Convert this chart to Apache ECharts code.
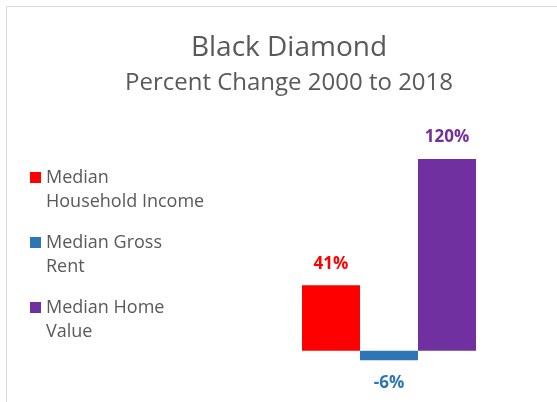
<!DOCTYPE html>
<html>
<head>
<meta charset="utf-8">
<script src="https://cdn.jsdelivr.net/npm/echarts@6/dist/echarts.min.js"></script>
<style>
  html, body { margin: 0; padding: 0; background: #ffffff; }
  #chart { width: 557px; height: 402px; }
</style>
</head>
<body>
<div id="chart"></div>
<script>
// Percent change 2000 to 2018, Black Diamond
const seriesNames = ['Median\nHousehold Income', 'Median Gross\nRent', 'Median Home\nValue'];
const seriesValues = [41, -6, 120];
const seriesColors = ['#ff0000', '#2e75b6', '#7030a0'];
const categories = ['2000-2018'];

const chart = echarts.init(document.getElementById('chart'));

const series = seriesNames.map((name, i) => ({
  name: name,
  type: 'bar',
  data: [seriesValues[i]],
  barWidth: 58,
  barGap: '0%',
  itemStyle: { color: seriesColors[i] },
  label: {
    show: true,
    position: seriesValues[i] < 0 ? 'bottom' : 'top',
    distance: seriesValues[i] < 0 ? 14 : 13,
    formatter: p => p.value + '%',
    color: seriesColors[i],
    fontFamily: 'Open Sans',
    fontWeight: 'bold',
    fontSize: 17
  }
}));

chart.setOption({
  animation: false,
  backgroundColor: '#ffffff',
  title: {
    text: 'Black Diamond',
    subtext: 'Percent Change 2000 to 2018',
    left: 284,
    textAlign: 'center',
    top: 29,
    itemGap: 9,
    textStyle: { fontFamily: 'Open Sans', fontWeight: 'normal', fontSize: 28, color: '#595959' },
    subtextStyle: { fontFamily: 'Open Sans', fontSize: 24, color: '#595959' }
  },
  legend: {
    orient: 'vertical',
    left: 30,
    top: 141.5,
    padding: 0,
    itemWidth: 11,
    itemHeight: 11,
    itemGap: -7,
    icon: 'rect',
    selectedMode: false,
    // a blank leading line keeps the marker level with the first text line
    formatter: name => ' \n' + name,
    textStyle: {
      fontFamily: 'Open Sans',
      fontSize: 18,
      color: '#595959',
      lineHeight: 24
    },
    data: seriesNames
  },
  grid: { left: 300, right: 79, top: 143, bottom: 35.3 },
  xAxis: {
    type: 'category',
    data: categories,
    show: false
  },
  yAxis: {
    type: 'value',
    min: -10,
    max: 130,
    show: false,
    splitLine: { show: false }
  },
  graphic: [{
    type: 'rect',
    shape: { x: 6.5, y: 6.5, width: 700, height: 600 },
    style: { fill: 'none', stroke: '#d9d9d9', lineWidth: 1 },
    silent: true,
    z: -10
  }],
  series: series
});
</script>
</body>
</html>
